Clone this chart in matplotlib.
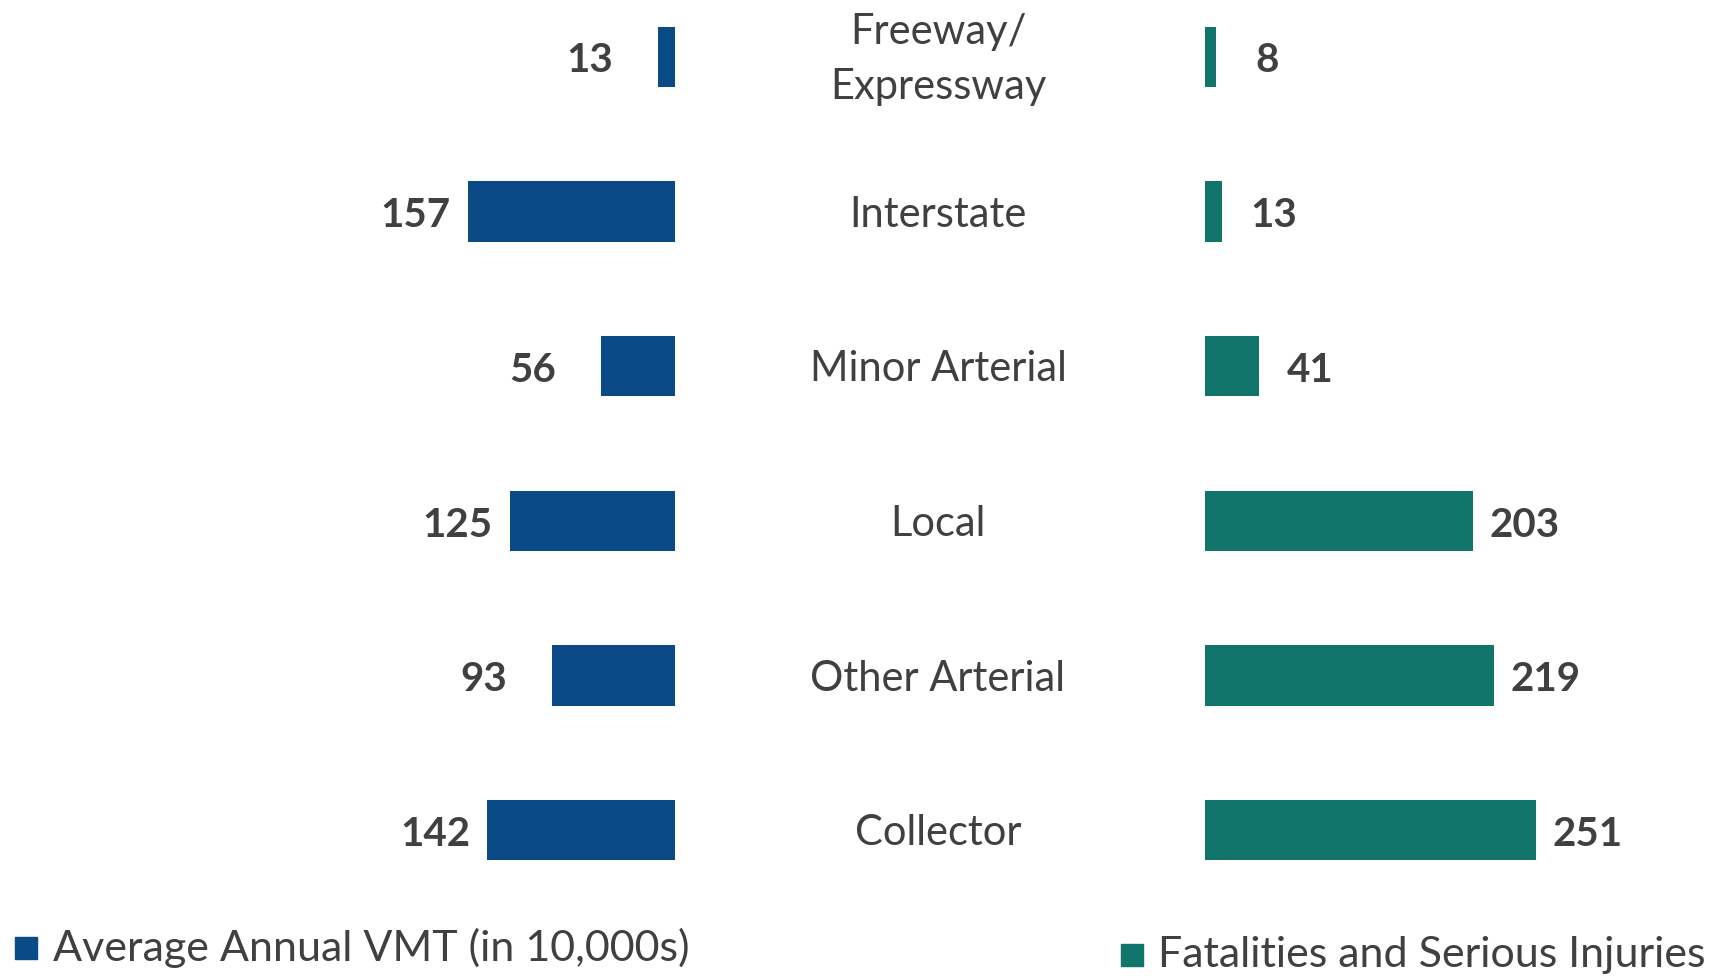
import matplotlib.pyplot as plt
import matplotlib.transforms as mtransforms
from matplotlib.patches import Rectangle

# Data
categories = ['Freeway/\nExpressway', 'Interstate', 'Minor Arterial', 'Local',
              'Other Arterial', 'Collector']
vmt = [13, 157, 56, 125, 93, 142]          # Average Annual VMT (in 10,000s)
ksi = [8, 13, 41, 203, 219, 251]           # Fatalities and Serious Injuries
legend_labels = ['Average Annual VMT (in 10,000s)', 'Fatalities and Serious Injuries']

blue = '#0A4A87'
teal = '#12756C'
txt = '#404040'
font = 'Lato'
fs = 30

W, H = 1729, 976
fig = plt.figure(figsize=(W / 100, H / 100), dpi=100)

# left (VMT) and right (KSI) panels
axL = fig.add_axes([0, 0, 675 / W, 1])
axR = fig.add_axes([1205 / W, 0, 524 / W, 1])

ypos = list(range(len(categories)))
for ax in (axL, axR):
    ax.set_ylim(5.942, -0.367)
    ax.axis('off')

axL.barh(ypos, vmt, height=0.39, color=blue)
axL.set_xlim(511, 0)
axR.barh(ypos, ksi, height=0.39, color=teal)
axR.set_xlim(0, 397)

for i, v in enumerate(vmt):
    axL.annotate(str(v), (v, i), xytext=(-63 if v >= 100 else -66, -3),
                 textcoords='offset points', ha='left', va='center',
                 fontsize=29, color=txt, fontweight='bold', family=font)
for i, v in enumerate(ksi):
    axR.annotate(str(v), (v, i), xytext=(37, -3), textcoords='offset points',
                 ha='center', va='center', fontsize=29, color=txt,
                 fontweight='bold', family=font)

# category names in the middle
trans = mtransforms.blended_transform_factory(fig.transFigure, axL.transData)
for i, c in enumerate(categories):
    fig.text(938 / W, i + 0.02, c, transform=trans, ha='center', va='center',
             fontsize=fs, color=txt, family=font, linespacing=1.55)

# legend
fig.patches.append(Rectangle((15 / W, 1 - 959 / H), 22 / W, 22 / H,
                             color=blue, transform=fig.transFigure))
fig.text(53 / W, 1 - 948 / H, legend_labels[0], ha='left', va='center',
         fontsize=31, color=txt, family=font)
fig.patches.append(Rectangle((1121 / W, 1 - 966 / H), 22 / W, 22 / H,
                             color=teal, transform=fig.transFigure))
fig.text(1158 / W, 1 - 955 / H, legend_labels[1], ha='left', va='center',
         fontsize=31, color=txt, family=font)

fig.savefig('out.png', dpi=100, facecolor='white')
